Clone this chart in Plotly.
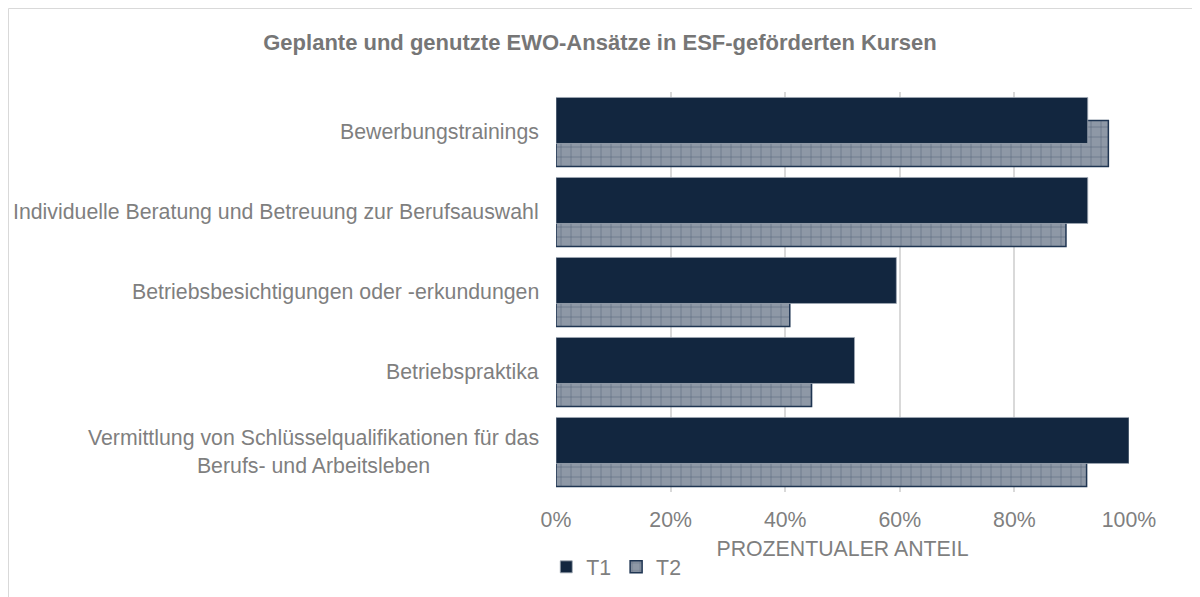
import plotly.graph_objects as go

categories = [
    "Bewerbungstrainings",
    "Individuelle Beratung und Betreuung zur Berufsauswahl",
    "Betriebsbesichtigungen oder -erkundungen",
    "Betriebspraktika",
    "Vermittlung von Schlüsselqualifikationen für das<br>Berufs- und Arbeitsleben",
]
t1_values = [0.928, 0.928, 0.594, 0.521, 1.0]
t2_values = [0.964, 0.890, 0.408, 0.446, 0.926]
x_ticks = [0, 0.2, 0.4, 0.6, 0.8, 1.0]
x_ticklabels = ["0%", "20%", "40%", "60%", "80%", "100%"]

FONT = "Liberation Sans, Arial, sans-serif"
GRAY = "#7f7f7f"
NAVY = "#12263f"
FS = 21.3

fig = go.Figure()
fig.add_trace(go.Bar(
    name="T2", y=categories, x=t2_values, orientation="h",
    width=0.575, offset=-0.1435,
    marker=dict(color="#8c96a4",
                line=dict(color="#1f3552", width=1.5),
                pattern=dict(shape="+", fgcolor="#2a3d58", bgcolor="#8e98a6",
                             size=10, solidity=0.12)),
    legendrank=2,
))
fig.add_trace(go.Bar(
    name="T1", y=categories, x=t1_values, orientation="h",
    width=0.575, offset=-0.4315,
    marker=dict(color=NAVY, line=dict(color="#a0a8b4", width=0.8)),
    legendrank=1,
))

for c in categories:
    fig.add_annotation(x=-0.0262, xref="paper", y=c, yref="y", text=c,
                       showarrow=False, xanchor="right", yanchor="middle",
                       align="center", font=dict(family=FONT, size=FS, color=GRAY))

# chart frame
fig.add_shape(type="rect", xref="paper", yref="paper",
              x0=-547.5 / 573, x1=2.0, y0=-0.6, y1=1 + 83.5 / 400,
              line=dict(color="#d9d9d9", width=1), fillcolor="rgba(0,0,0,0)",
              layer="below")

fig.update_layout(
    width=1200, height=597,
    margin=dict(l=548, r=79, t=84, b=113),
    paper_bgcolor="white", plot_bgcolor="white",
    barmode="overlay",
    title=dict(text="<b>Geplante und genutzte EWO-Ansätze in ESF-geförderten Kursen</b>",
               x=592 / 1200, xref="container", xanchor="center",
               y=1 - 34 / 597, yref="container", yanchor="middle",
               font=dict(family=FONT, size=22, color="#767676")),
    font=dict(family=FONT, size=FS, color=GRAY),
    showlegend=True,
    legend=dict(orientation="h", x=-0.017, xanchor="left", y=-0.1875, yanchor="middle",
                font=dict(family=FONT, size=FS, color=GRAY),
                itemwidth=30, tracegroupgap=0, bgcolor="rgba(0,0,0,0)"),
    xaxis=dict(range=[0, 1.0], tickvals=x_ticks, ticktext=x_ticklabels,
               showgrid=True, gridcolor="#d9d9d9", gridwidth=1.5,
               zeroline=False, showline=False,
               ticks="outside", ticklen=8, tickcolor="rgba(0,0,0,0)",
               tickfont=dict(family=FONT, size=FS, color=GRAY),
               title=dict(text="PROZENTUALER ANTEIL", standoff=10,
                          font=dict(family=FONT, size=FS, color=GRAY))),
    yaxis=dict(type="category", range=[4.5, -0.5], showticklabels=False,
               showgrid=False, zeroline=False, showline=False),
)

fig.write_html("out.html")
